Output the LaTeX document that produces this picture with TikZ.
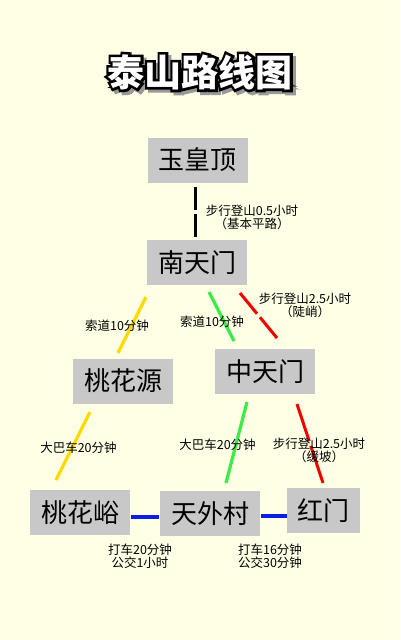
\documentclass[tikz,border=0pt]{standalone}
\usepackage{fontspec}
\newfontfamily\cjk{Noto Sans CJK SC}
\newfontfamily\cjkout{Noto Sans CJK SC}[BoldFeatures={FakeBold=14}]
\usetikzlibrary{calc}
\definecolor{bg}{RGB}{255,255,230}
\definecolor{boxgray}{RGB}{200,200,200}
\definecolor{lyellow}{RGB}{255,218,0}
\definecolor{lgreen}{RGB}{60,235,70}
\definecolor{lred}{RGB}{240,0,0}
\definecolor{lblue}{RGB}{10,30,230}
\begin{document}
\begin{tikzpicture}[x=1pt,y=-1pt,
  place/.style={fill=boxgray, font=\cjk\fontsize{26}{30}\selectfont, minimum height=45, minimum width=100, inner xsep=10, text=black},
  lbl/.style={font=\cjk\fontsize{12.5}{13}\selectfont, align=center, inner sep=0},
  ttl/.style={font=\cjk\bfseries\fontsize{37}{40}\selectfont, inner sep=0},
  ttlout/.style={font=\cjkout\bfseries\fontsize{37}{40}\selectfont, inner sep=0},
  road/.style={line width=3.2},
  walk/.style={line width=3}]
\fill[bg] (0,0) rectangle (400,640);
\useasboundingbox (0,0) rectangle (400,640);

% title: shadow, black outline, white face
\node[ttlout, text=black!40] (tshadow) at (203,75) {泰山路线图};
\node[ttlout, text=black] (toutline) at (200,72) {泰山路线图};
\node[ttl, text=white] (title) at (200,72) {泰山路线图};

% places
\node[place] (yhd) at (197.5,160) {玉皇顶};
\node[place] (ntm) at (197,262.5) {南天门};
\node[place] (thy) at (123,381) {桃花源};
\node[place] (ztm) at (265,371.5) {中天门};
\node[place] (thyu) at (80,512.5) {桃花峪};
\node[place] (twc) at (210,513.5) {天外村};
\node[place, minimum width=73] (hm) at (323.5,510.5) {红门};

% connector end points
\coordinate (k1) at (195,187);   \coordinate (k2) at (195,237);
\coordinate (y1) at (146,297);   \coordinate (y2) at (118,353);
\coordinate (g1) at (209,292);   \coordinate (g2) at (234,341);
\coordinate (r1) at (240,293);   \coordinate (r2) at (277,338);
\coordinate (y3) at (90,412);    \coordinate (y4) at (56,480);
\coordinate (g3) at (247,402);   \coordinate (g4) at (226,483);
\coordinate (r3) at (297,404);   \coordinate (r4) at (323,483);
\coordinate (b1) at (131,517);   \coordinate (b2) at (159,517);
\coordinate (b3) at (261,516);   \coordinate (b4) at (287,516);

% walking paths (with a small break in the middle)
\draw[walk, black] (k1) -- ($(k1)!0.46!(k2)$) ($(k1)!0.54!(k2)$) -- (k2);
\draw[walk, lred] (r1) -- ($(r1)!0.46!(r2)$) ($(r1)!0.54!(r2)$) -- (r2);
\draw[walk, lred] (r3) -- ($(r3)!0.47!(r4)$) ($(r3)!0.53!(r4)$) -- (r4);
% cable car / bus / road
\draw[road, lyellow] (y1) -- (y2);
\draw[road, lyellow] (y3) -- (y4);
\draw[road, lgreen] (g1) -- (g2);
\draw[road, lgreen] (g3) -- (g4);
\draw[road, lblue] (b1) -- (b2);
\draw[road, lblue] (b3) -- (b4);

% labels
\node[lbl] (l1) at (252,217.5) {步行登山0.5小时\\（基本平路）};
\node[lbl] (l2) at (117,326) {索道10分钟};
\node[lbl] (l3) at (212,322) {索道10分钟};
\node[lbl] (l4) at (305,305.5) {步行登山2.5小时\\（陡峭）};
\node[lbl] (l5) at (78.5,448) {大巴车20分钟};
\node[lbl] (l6) at (217.5,445) {大巴车20分钟};
\node[lbl] (l7) at (319,450) {步行登山2.5小时\\（缓坡）};
\node[lbl] (l8) at (140,556.5) {打车20分钟\\公交1小时};
\node[lbl] (l9) at (270,556.5) {打车16分钟\\公交30分钟};
\end{tikzpicture}
\end{document}
